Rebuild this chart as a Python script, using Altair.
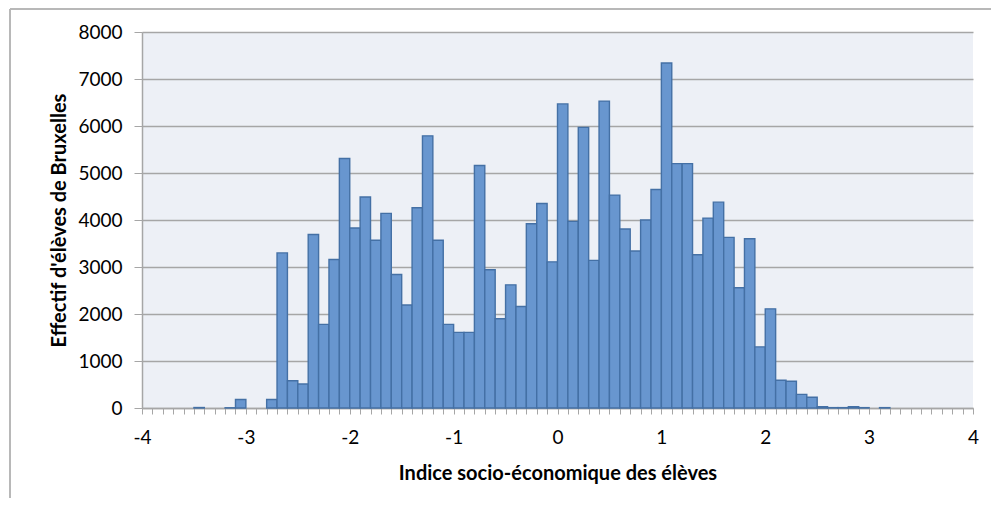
import altair as alt
import pandas as pd

# bin starts (width 0.1) from -4.0 to 3.9
bin_start = [round(-4 + 0.1 * i, 1) for i in range(80)]
counts = [
    0, 0, 0, 0, 0, 10, 0, 0, 5, 180,
    0, 0, 180, 3300, 580, 510, 3690, 1780, 3160, 5310,
    3830, 4490, 3570, 4140, 2840, 2190, 4260, 5790, 3570, 1780,
    1610, 1610, 5160, 2940, 1900, 2620, 2160, 3920, 4350, 3110,
    6470, 3970, 5970, 3140, 6530, 4530, 3810, 3340, 4000, 4650,
    7340, 5200, 5200, 3260, 4040, 4380, 3630, 2560, 3600, 1300,
    2110, 590, 570, 290, 230, 30, 8, 8, 28, 8,
    0, 8, 0, 0, 0, 0, 0, 0, 0, 0,
]
x_ticks = [round(-4 + 0.1 * i, 1) for i in range(81)]
y_ticks = [0, 1000, 2000, 3000, 4000, 5000, 6000, 7000, 8000]

df = pd.DataFrame({"start": bin_start, "end": [round(s + 0.1, 1) for s in bin_start], "count": counts})

FONT = "Lato"
GRID = "#A6A6A6"

bars = alt.Chart(df).transform_filter("datum.count > 0").mark_bar(
    fill="#6896CF", stroke="#4470A5", strokeWidth=1.4, opacity=1
).encode(
    x=alt.X(
        "start:Q",
        scale=alt.Scale(domain=[-4, 4], nice=False, zero=False),
        axis=alt.Axis(
            values=x_ticks,
            labelExpr="abs(datum.value - round(datum.value)) < 0.001 ? '' + round(datum.value) : ''",
            labelOverlap=False,
            labelFlush=False,
            grid=False,
            domainColor=GRID,
            domainWidth=1.5,
            tickColor=GRID,
            tickSize=6,
            tickWidth=1,
            labelPadding=14,
            labelFont=FONT,
            labelFontSize=19,
            labelColor="#000000",
            title="Indice socio-économique des élèves",
            titleFont=FONT,
            titleFontSize=20,
            titleFontWeight="bold",
            titleColor="#000000",
            titlePadding=16,
        ),
    ),
    x2="end:Q",
    y=alt.Y(
        "count:Q",
        scale=alt.Scale(domain=[0, 8000], nice=False),
        axis=alt.Axis(
            values=y_ticks,
            format="d",
            grid=True,
            gridColor=GRID,
            gridWidth=1.5,
            domainColor=GRID,
            domainWidth=1.5,
            tickColor=GRID,
            tickSize=8,
            tickWidth=1,
            labelPadding=12,
            labelFont=FONT,
            labelFontSize=19,
            labelColor="#000000",
            title="Effectif d'élèves de Bruxelles",
            titleFont=FONT,
            titleFontSize=20,
            titleFontWeight="bold",
            titleColor="#000000",
            titlePadding=8,
        ),
    ),
    y2=alt.datum(0),
)

frame_left = alt.Chart(df).mark_rule(color="#B8B8B8", strokeWidth=1.5, clip=False).encode(
    x=alt.value(-132), y=alt.value(-23), y2=alt.value(520)
)
frame_top = alt.Chart(df).mark_rule(color="#B8B8B8", strokeWidth=1.5, clip=False).encode(
    x=alt.value(-132), x2=alt.value(860), y=alt.value(-23)
)

chart = alt.layer(bars, frame_left, frame_top).properties(
    width=831,
    height=376,
    autosize=alt.AutoSizeParams(type="none"),
    padding={"left": 134, "top": 24, "right": 18, "bottom": 90},
).configure_view(
    fill="#EDF0F6", stroke=None
)

chart.save("out.html", embed_options={"renderer": "svg", "actions": False})
